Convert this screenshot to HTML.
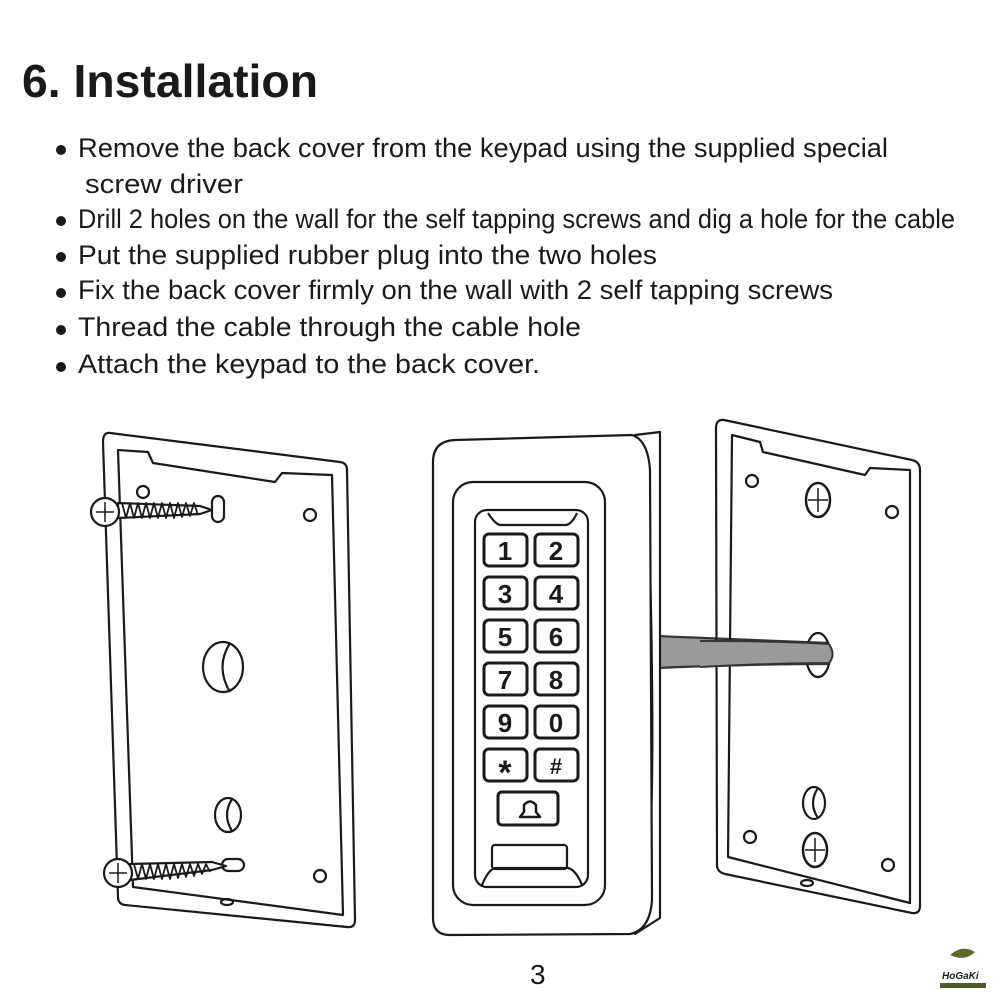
<!DOCTYPE html>
<html><head><meta charset="utf-8"><style>
html,body{margin:0;padding:0;background:#fff;}
svg{display:block;}
text{font-family:"Liberation Sans",Arial,sans-serif;fill:#1a1a1a;}
</style></head><body>
<svg width="1000" height="1000" viewBox="0 0 1000 1000" xmlns="http://www.w3.org/2000/svg">
<rect width="1000" height="1000" fill="#fff"/>
<text x="22" y="97" font-size="46" font-weight="bold" textLength="296" lengthAdjust="spacingAndGlyphs">6. Installation</text>
<g font-size="27">
<circle cx="61" cy="150" r="5" fill="#1a1a1a"/>
<text x="78" y="157" textLength="810" lengthAdjust="spacingAndGlyphs">Remove the back cover from the keypad using the supplied special</text>
<text x="85" y="193" textLength="158" lengthAdjust="spacingAndGlyphs">screw driver</text>
<circle cx="61" cy="221" r="5" fill="#1a1a1a"/>
<text x="78" y="228" textLength="877" lengthAdjust="spacingAndGlyphs">Drill 2 holes on the wall for the self tapping screws and dig a hole for the cable</text>
<circle cx="61" cy="257" r="5" fill="#1a1a1a"/>
<text x="78" y="264" textLength="579" lengthAdjust="spacingAndGlyphs">Put the supplied rubber plug into the two holes</text>
<circle cx="61" cy="293" r="5" fill="#1a1a1a"/>
<text x="78" y="299" textLength="755" lengthAdjust="spacingAndGlyphs">Fix the back cover firmly on the wall with 2 self tapping screws</text>
<circle cx="61" cy="330" r="5" fill="#1a1a1a"/>
<text x="78" y="336" textLength="503" lengthAdjust="spacingAndGlyphs">Thread the cable through the cable hole</text>
<circle cx="61" cy="367" r="5" fill="#1a1a1a"/>
<text x="78" y="373" textLength="462" lengthAdjust="spacingAndGlyphs">Attach the keypad to the back cover.</text>
</g>

<g fill="none" stroke="#1a1a1a" stroke-width="2.2" stroke-linejoin="round">
<path d="M110,433 L340,462 Q347,463 347,470 L355,920 Q355,928 347,927 L125,905 Q118,904 118,897 L103,442 Q103,432 110,433 Z"/>
<path d="M118,450 L148,452 L153,463 L275,482 L282,473 L332,475 L343,915 L133,887 Z"/>
<circle cx="143" cy="492" r="6"/>
<circle cx="310" cy="515" r="6"/>
<circle cx="320" cy="876" r="6"/>
<ellipse cx="223" cy="667" rx="20" ry="25"/>
<path d="M230,643 Q215,667 230,692"/>
<ellipse cx="228" cy="815" rx="13" ry="17"/>
<path d="M232,799 Q222,815 232,831"/>
<ellipse cx="227" cy="902" rx="6" ry="3"/>
<rect x="212" y="496" width="12" height="26" rx="6"/>
<rect x="222" y="859" width="22" height="12" rx="6"/>
<path d="M118,503 L200,506 L212,510 L200,514 L118,518 Z" fill="#fff"/>
<path d="M122,503 l4,15 l4,-15 l4,15 l4,-15 l4,15 l4,-15 l4,15 l4,-15 l4,15 l4,-15 l4,15 l4,-15 l4,15 l4,-15 l4,14 l4,-14 l4,13 l4,-13 l4,12" stroke-width="1.8"/>
<circle cx="105" cy="512" r="14" fill="#fff"/>
<path d="M96,512 L114,512 M105,502 L105,522" stroke-width="1.5"/>
<path d="M130,864 L212,862 L226,866 L212,870 L130,880 Z" fill="#fff"/>
<path d="M134,864 l4,15 l4,-15 l4,15 l4,-15 l4,15 l4,-15 l4,15 l4,-15 l4,15 l4,-15 l4,14 l4,-14 l4,13 l4,-13 l4,12 l4,-12 l4,10 l4,-10 l4,8" stroke-width="1.8"/>
<circle cx="118" cy="873" r="14" fill="#fff"/>
<path d="M109,873 L127,873 M118,863 L118,883" stroke-width="1.5"/>

<path d="M656,636 Q750,640 828,643 Q836,655 828,664 Q750,664 656,668 Z" fill="#9a9a9a" stroke="#333"/>

<path d="M635,435 L660,432 L660,918 L635,934 Q655,900 652,680 Q650,450 635,435 Z" fill="#fff"/>
<path d="M455,440 L632,435 Q648,440 650,470 L652,900 Q650,930 630,934 L450,935 Q433,935 433,918 L433,462 Q433,441 455,440 Z" fill="#fff"/>
<rect x="453" y="482" width="152" height="423" rx="20"/>
<rect x="475" y="510" width="113" height="377" rx="12"/>
<path d="M488,513 Q495,524 500,525 L566,525 Q572,524 577,513"/>
<path d="M482,885 Q488,870 495,868 L568,868 Q576,870 582,885"/>
<rect x="492" y="845" width="75" height="24" rx="3"/>
<g stroke-width="3">
<rect x="484" y="534" width="43" height="32" rx="5"/><rect x="535" y="534" width="43" height="32" rx="5"/>
<rect x="484" y="577" width="43" height="32" rx="5"/><rect x="535" y="577" width="43" height="32" rx="5"/>
<rect x="484" y="620" width="43" height="32" rx="5"/><rect x="535" y="620" width="43" height="32" rx="5"/>
<rect x="484" y="663" width="43" height="32" rx="5"/><rect x="535" y="663" width="43" height="32" rx="5"/>
<rect x="484" y="706" width="43" height="32" rx="5"/><rect x="535" y="706" width="43" height="32" rx="5"/>
<rect x="484" y="749" width="43" height="32" rx="5"/><rect x="535" y="749" width="43" height="32" rx="5"/>
<rect x="498" y="792" width="60" height="33" rx="4"/>
</g>
<path d="M520,817 L540,817 L536,812 L536,805 Q530,798 524,805 L524,812 Z" stroke-width="2.5"/>

<path d="M724,420 L912,460 Q920,462 920,470 L920,906 Q920,914 912,913 L725,874 Q717,872 717,865 L716,428 Q716,419 724,420 Z"/>
<path d="M732,435 L760,442 L763,452 L865,475 L870,468 L910,470 L910,903 L728,857 Z"/>
<circle cx="752" cy="481" r="6"/>
<circle cx="892" cy="512" r="6"/>
<circle cx="750" cy="837" r="6"/>
<circle cx="888" cy="865" r="6"/>
<ellipse cx="807" cy="883" rx="6" ry="3"/>
<ellipse cx="814" cy="803" rx="11" ry="16"/>
<path d="M818,788 Q808,803 818,818"/>
<ellipse cx="818" cy="655" rx="12" ry="22"/>
<ellipse cx="818" cy="500" rx="12" ry="17" stroke-width="2.5"/>
<path d="M808,500 L828,500 M818,488 L818,512" stroke-width="1.5"/>
<ellipse cx="815" cy="850" rx="12" ry="17" stroke-width="2.5"/>
<path d="M805,850 L825,850 M815,838 L815,862" stroke-width="1.5"/>
</g>
<path d="M700,641 Q780,641 829,644 Q836,655 829,663 Q780,663 700,667" fill="#9a9a9a" stroke="#333" stroke-width="2"/>

<g font-size="26" font-weight="bold" text-anchor="middle">
<text x="505" y="560">1</text><text x="556" y="560">2</text>
<text x="505" y="603">3</text><text x="556" y="603">4</text>
<text x="505" y="646">5</text><text x="556" y="646">6</text>
<text x="505" y="689">7</text><text x="556" y="689">8</text>
<text x="505" y="732">9</text><text x="556" y="732">0</text>
<text x="505" y="784" font-size="34">*</text><text x="556" y="774" font-size="22">#</text>
</g>

<text x="530" y="984" font-size="28">3</text>
<path d="M950,955 Q962,944 975,952 Q965,962 950,955 Z" fill="#5a6a2a"/>
<text x="942" y="979" font-size="10" font-style="italic" font-weight="bold" fill="#333">HoGaKi</text>
<rect x="940" y="983" width="46" height="5" fill="#4a5a2a"/>
</svg>
</body></html>
